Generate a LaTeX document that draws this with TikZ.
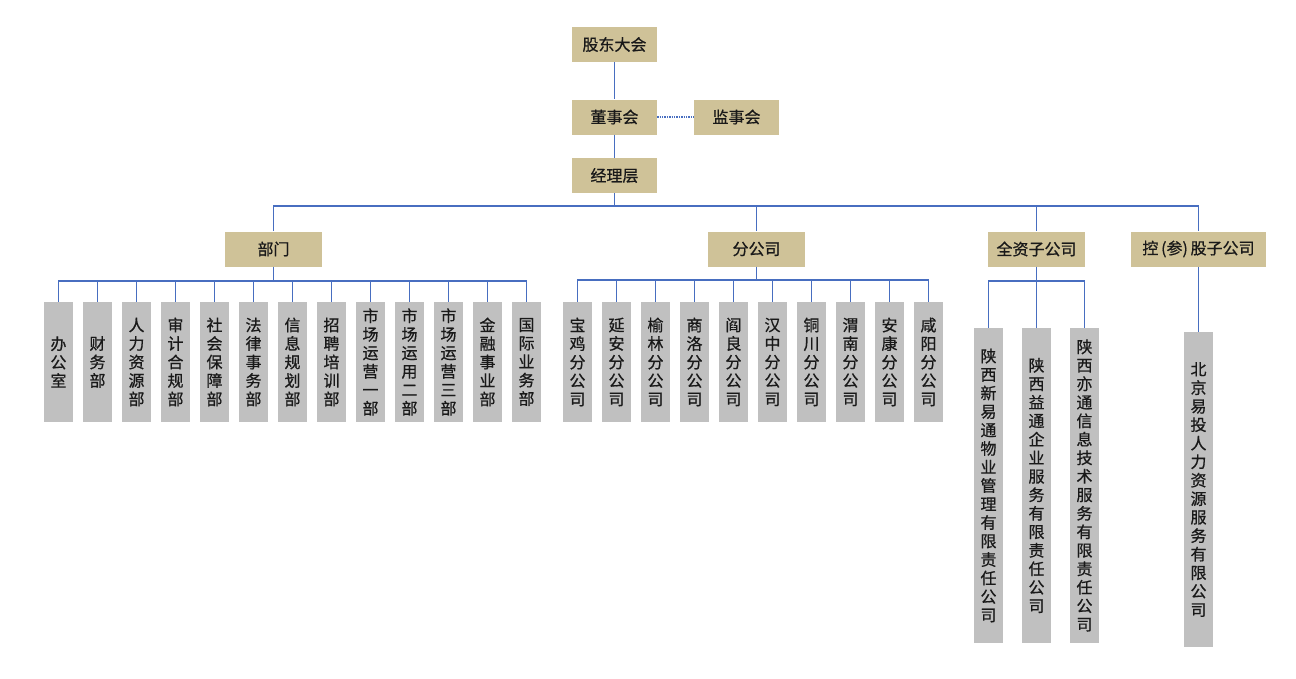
\documentclass[tikz,border=0pt]{standalone}
\usepackage{fontspec}
\setmainfont{Noto Sans CJK SC}[FakeBold=0.7]
\usepackage{tikz}
\usetikzlibrary{calc}
\definecolor{tanfill}{RGB}{207,194,152}
\definecolor{greyfill}{RGB}{192,192,192}
\definecolor{linkblue}{RGB}{72,110,192}
\tikzset{
  headbox/.style={fill=tanfill, draw=none, minimum height=35pt, inner sep=0pt, text=black!90, font=\fontsize{16}{18}\selectfont},
  unitbox/.style={fill=greyfill, draw=none, minimum width=29.5pt, inner sep=0pt, align=center, text=black!90, font=\fontsize{16}{18.5}\selectfont},
  link/.style={draw=linkblue, line width=1.4pt}
}
\newcommand{\headcell}[5]{\node[headbox, minimum width=#4] (#1) at ( #2 , #3 ) {#5};}
\newcommand{\unitcell}[5]{\node[unitbox, minimum height=#4] (#1) at ( #2 , #3 ) {#5};}

\begin{document}
\begin{tikzpicture}[x=1pt, y=-1pt]
    \useasboundingbox (0,0) rectangle (1296,678);
    % top
    \headcell{gd}{614.5}{44.5}{85pt}{股东大会}
    \headcell{ds}{614.5}{117}{85pt}{董事会}
    \headcell{js}{736.5}{117}{85pt}{监事会}
    \headcell{jl}{614.5}{175.5}{85pt}{经理层}
    % second level
    \headcell{bm}{273.5}{249}{97pt}{部门}
    \headcell{fgs}{756.5}{249}{97pt}{分公司}
    \headcell{qz}{1036.5}{249}{97pt}{全资子公司}
    \headcell{kg}{1198.5}{249}{135pt}{控\,(参)\,股子公司}

    % departments
    \unitcell{d1}{58.5}{362}{120pt}{办\\公\\室}
    \unitcell{d2}{97.5}{362}{120pt}{财\\务\\部}
    \unitcell{d3}{136.5}{362}{120pt}{人\\力\\资\\源\\部}
    \unitcell{d4}{175.5}{362}{120pt}{审\\计\\合\\规\\部}
    \unitcell{d5}{214.5}{362}{120pt}{社\\会\\保\\障\\部}
    \unitcell{d6}{253.5}{362}{120pt}{法\\律\\事\\务\\部}
    \unitcell{d7}{292.5}{362}{120pt}{信\\息\\规\\划\\部}
    \unitcell{d8}{331.5}{362}{120pt}{招\\聘\\培\\训\\部}
    \unitcell{d9}{370.5}{362}{120pt}{市\\场\\运\\营\\一\\部}
    \unitcell{d10}{409.5}{362}{120pt}{市\\场\\运\\用\\二\\部}
    \unitcell{d11}{448.5}{362}{120pt}{市\\场\\运\\营\\三\\部}
    \unitcell{d12}{487.5}{362}{120pt}{金\\融\\事\\业\\部}
    \unitcell{d13}{526.5}{362}{120pt}{国\\际\\业\\务\\部}

    % branches
    \unitcell{f1}{577.5}{362}{120pt}{宝\\鸡\\分\\公\\司}
    \unitcell{f2}{616.5}{362}{120pt}{延\\安\\分\\公\\司}
    \unitcell{f3}{655.5}{362}{120pt}{榆\\林\\分\\公\\司}
    \unitcell{f4}{694.5}{362}{120pt}{商\\洛\\分\\公\\司}
    \unitcell{f5}{733.5}{362}{120pt}{阎\\良\\分\\公\\司}
    \unitcell{f6}{772.5}{362}{120pt}{汉\\中\\分\\公\\司}
    \unitcell{f7}{811.5}{362}{120pt}{铜\\川\\分\\公\\司}
    \unitcell{f8}{850.5}{362}{120pt}{渭\\南\\分\\公\\司}
    \unitcell{f9}{889.5}{362}{120pt}{安\\康\\分\\公\\司}
    \unitcell{f10}{928.5}{362}{120pt}{咸\\阳\\分\\公\\司}

    % subsidiaries
    \unitcell{q1}{988.5}{485.5}{315pt}{陕\\西\\新\\易\\通\\物\\业\\管\\理\\有\\限\\责\\任\\公\\司}
    \unitcell{q2}{1036.5}{485.5}{315pt}{陕\\西\\益\\通\\企\\业\\服\\务\\有\\限\\责\\任\\公\\司}
    \unitcell{q3}{1084.5}{485.5}{315pt}{陕\\西\\亦\\通\\信\\息\\技\\术\\服\\务\\有\\限\\责\\任\\公\\司}
    \unitcell{bj}{1198.5}{489.5}{315pt}{北\\京\\易\\投\\人\\力\\资\\源\\服\\务\\有\\限\\公\\司}

    % links
    \draw[link] (gd) -- (ds);
    \draw[link] (ds) -- (jl);
    \draw[link, densely dotted] (ds.east) -- (js.west);
    \coordinate (mainbus) at (614.5,206);
    \draw[link] (jl.south) -- (mainbus);
    \foreach \n in {bm,fgs,qz,kg}
        \draw[link] (mainbus) -| (\n.north);
    \coordinate (bmbus) at (273.5,281);
    \draw[link] (bm.south) -- (bmbus);
    \foreach \k in {1,...,13}
        \draw[link] (bmbus) -| (d\k.north);
    \coordinate (fgsbus) at (756.5,280);
    \draw[link] (fgs.south) -- (fgsbus);
    \foreach \k in {1,...,10}
        \draw[link] (fgsbus) -| (f\k.north);
    \coordinate (qzbus) at (1036.5,281);
    \draw[link] (qz.south) -- (q2.north);
    \foreach \k in {1,3}
        \draw[link] (qzbus) -| (q\k.north);
    \draw[link] (kg.south) -- (bj.north);
\end{tikzpicture}
\end{document}
